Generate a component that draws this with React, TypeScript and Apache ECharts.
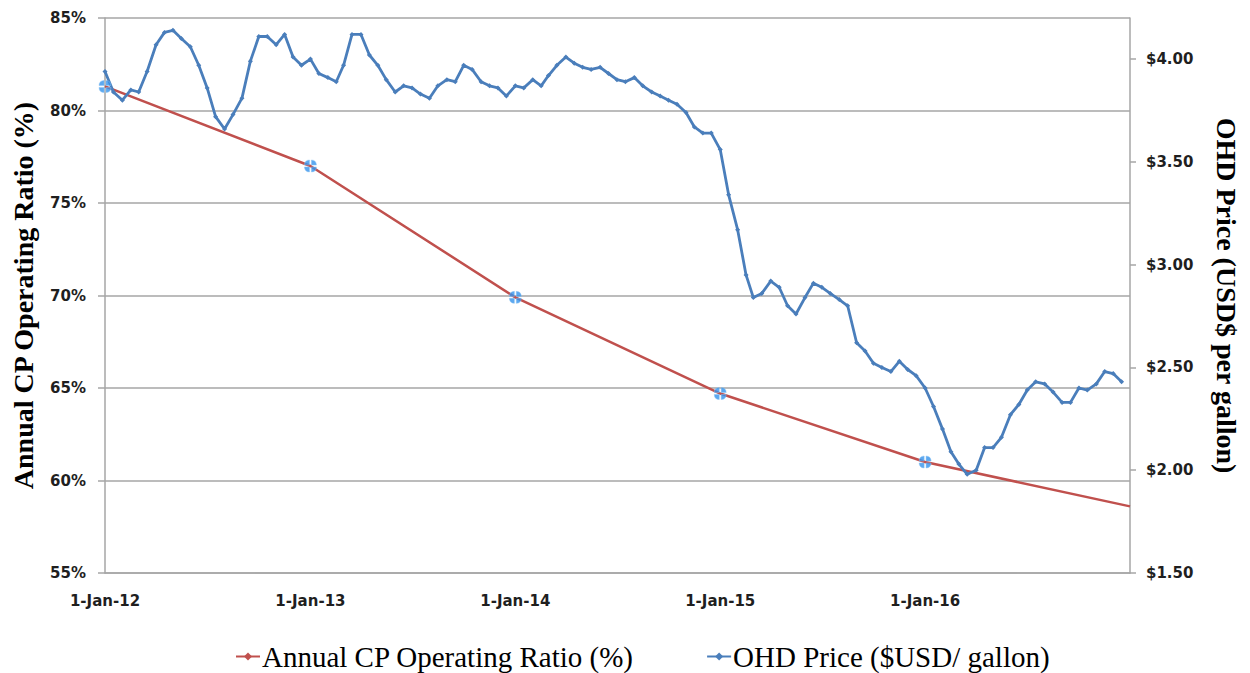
import React, { useEffect, useRef } from "react";
import * as echarts from "echarts";

// Annual CP operating ratio (%), plotted at each year start
const ratioDates = ["2012-01-01", "2013-01-01", "2014-01-01", "2015-01-01", "2016-01-01", "2016-12-31"];
const ratioValues = [81.3, 77.0, 69.9, 64.7, 61.0, 58.6];

// OHD price (USD per gallon), semi-monthly
const ohdYears = [2012, 2013, 2014, 2015, 2016];
const ohd2012 = [3.94, 3.84, 3.80, 3.85, 3.84, 3.94, 4.07, 4.13, 4.14, 4.10, 4.06, 3.97, 3.86, 3.72, 3.66, 3.73, 3.81, 3.99, 4.11, 4.11, 4.07, 4.12, 4.01, 3.97];
const ohd2013 = [4.00, 3.93, 3.91, 3.89, 3.97, 4.12, 4.12, 4.02, 3.97, 3.90, 3.84, 3.87, 3.86, 3.83, 3.81, 3.87, 3.90, 3.89, 3.97, 3.95, 3.89, 3.87, 3.86, 3.82];
const ohd2014 = [3.87, 3.86, 3.90, 3.87, 3.92, 3.97, 4.01, 3.98, 3.96, 3.95, 3.96, 3.93, 3.90, 3.89, 3.91, 3.87, 3.84, 3.82, 3.80, 3.78, 3.74, 3.67, 3.64, 3.64];
const ohd2015 = [3.56, 3.34, 3.17, 2.95, 2.84, 2.86, 2.92, 2.89, 2.80, 2.76, 2.84, 2.91, 2.89, 2.86, 2.83, 2.80, 2.62, 2.58, 2.52, 2.50, 2.48, 2.53, 2.49, 2.46];
const ohd2016 = [2.40, 2.31, 2.20, 2.09, 2.03, 1.98, 2.00, 2.11, 2.11, 2.16, 2.27, 2.32, 2.39, 2.43, 2.42, 2.38, 2.33, 2.33, 2.40, 2.39, 2.42, 2.48, 2.47, 2.43];

const leftTicks = [55, 60, 65, 70, 75, 80, 85];
const rightTicks = [1.5, 2.0, 2.5, 3.0, 3.5, 4.0];

const ratioName = "Annual CP Operating Ratio (%)";
const ohdName = "OHD Price ($USD/ gallon)";

const pad = (n: number) => (n < 10 ? "0" + n : "" + n);
const ohdDates: string[] = [];
ohdYears.forEach((y) => {
  for (let m = 1; m <= 12; m++) {
    ohdDates.push(`${y}-${pad(m)}-01`, `${y}-${pad(m)}-16`);
  }
});
const ohdValues = [...ohd2012, ...ohd2013, ...ohd2014, ...ohd2015, ...ohd2016];

const markerPath =
  "path://M0,4.2 A4.4,4.4 0 0 1 4.2,0 L4.2,4.2 Z M5.8,0 A4.4,4.4 0 0 1 10,4.2 L5.8,4.2 Z M0,5.8 L4.2,5.8 L4.2,10 A4.4,4.4 0 0 1 0,5.8 Z M5.8,5.8 L10,5.8 A4.4,4.4 0 0 1 5.8,10 Z";

export default function App() {
  const ref = useRef<HTMLDivElement>(null);
  useEffect(() => {
    if (!ref.current) return;
    const chart = echarts.init(ref.current, undefined, { renderer: "svg" });
    const tickFont = { fontFamily: "DejaVu Sans", fontWeight: "bold" as const, fontSize: 15, color: "#1f1f1f" };
    const titleFont = { fontFamily: "Liberation Serif", fontWeight: "bold" as const, fontSize: 28, color: "#000" };
    const grey = "#a6a6a6";
    chart.setOption({
      animation: false,
      backgroundColor: "#fff",
      grid: { left: 105, right: 120, top: 18, bottom: 100, containLabel: false },
      legend: {
        data: [ratioName, ohdName],
        left: 230,
        top: 637,
        itemWidth: 24,
        itemHeight: 10,
        itemGap: 72,
        textStyle: { fontFamily: "Liberation Serif", fontSize: 29, color: "#000", padding: [0, 0, 0, -3] },
      },
      xAxis: {
        type: "time",
        min: new Date(2012, 0, 1).getTime(),
        max: new Date(2016, 11, 31).getTime(),
        minInterval: 365 * 24 * 3600 * 1000,
        maxInterval: 366 * 24 * 3600 * 1000,
        axisLine: { show: true, lineStyle: { color: grey, width: 1.5 } },
        axisTick: { show: false },
        splitLine: { show: false },
        axisLabel: {
          ...tickFont,
          margin: 20,
          hideOverlap: false,
          formatter: (v: number) => {
            const d = new Date(v);
            if (d.getMonth() === 0 && d.getDate() === 1) return "1-Jan-" + String(d.getFullYear()).slice(-2);
            return "";
          },
        },
      },
      yAxis: [
        {
          type: "value",
          min: 55,
          max: 85,
          interval: 5,
          position: "left",
          name: "Annual CP Operating Ratio (%)",
          nameLocation: "middle",
          nameGap: 68,
          nameRotate: 90,
          nameTextStyle: titleFont,
          axisLine: { show: true, lineStyle: { color: grey, width: 1.5 } },
          axisTick: { show: true, length: 7, lineStyle: { color: grey, width: 1.5 }, customValues: leftTicks },
          splitLine: { show: true, lineStyle: { color: grey, width: 1.5 } },
          axisLabel: { ...tickFont, margin: 19, formatter: "{value}%", customValues: leftTicks },
        },
        {
          type: "value",
          min: 1.5,
          max: 4.2,
          interval: 0.5,
          position: "right",
          name: "OHD Price (USD$ per gallon)",
          nameLocation: "middle",
          nameGap: 82,
          nameRotate: -90,
          nameTextStyle: titleFont,
          axisLine: { show: true, lineStyle: { color: grey, width: 1.5 } },
          axisTick: { show: true, length: 6, lineStyle: { color: grey, width: 1.5 }, customValues: rightTicks },
          splitLine: { show: false },
          axisLabel: {
            ...tickFont,
            margin: 16,
            customValues: rightTicks,
            formatter: (v: number) => "$" + v.toFixed(2),
          },
        },
      ],
      series: [
        {
          name: ratioName,
          type: "line",
          yAxisIndex: 0,
          data: ratioDates.map((d, i) => [d, ratioValues[i]]),
          symbol: "diamond",
          symbolSize: 4,
          showSymbol: false,
          lineStyle: { color: "#c0504d", width: 2.5 },
          itemStyle: { color: "#c0504d" },
          z: 2,
        },
        {
          name: ohdName,
          type: "line",
          yAxisIndex: 1,
          data: ohdDates.map((d, i) => [d, ohdValues[i]]),
          symbol: "diamond",
          symbolSize: 5,
          lineStyle: { color: "#4a7ebb", width: 2.8 },
          itemStyle: { color: "#4a7ebb" },
          z: 3,
        },
        {
          name: "markers",
          type: "scatter",
          yAxisIndex: 0,
          data: ratioDates.slice(0, 5).map((d, i) => [d, ratioValues[i]]),
          symbol: markerPath,
          symbolSize: 12,
          itemStyle: { color: "#3392ec", borderColor: "#8cc4f5", borderWidth: 0.6 },
          z: 5,
        },
      ],
    });
    return () => chart.dispose();
  }, []);
  return <div ref={ref} style={{ position: "fixed", left: 0, top: 0, width: 1250, height: 673 }} />;
}
